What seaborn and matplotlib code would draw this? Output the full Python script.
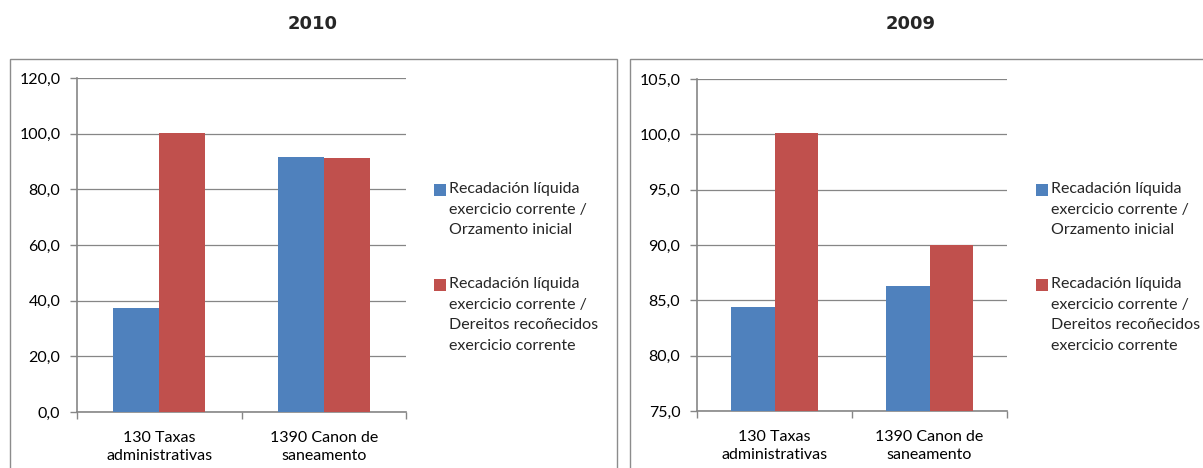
import matplotlib
matplotlib.use("Agg")
import matplotlib.pyplot as plt
from matplotlib.patches import Rectangle
from matplotlib.ticker import FuncFormatter, MultipleLocator
import seaborn as sns
import pandas as pd

# --- data -------------------------------------------------------------
categories = ["130 Taxas\nadministrativas", "1390 Canon de\nsaneamento"]
series_names = [
    "Recadación líquida\nexercicio corrente /\nOrzamento inicial",
    "Recadación líquida\nexercicio corrente /\nDereitos recoñecidos\nexercicio corrente",
]
values_2010_orzamento = [37.5, 91.6]
values_2010_dereitos = [100.2, 91.2]
values_2009_orzamento = [84.4, 86.3]
values_2009_dereitos = [100.1, 90.0]
years = ["2010", "2009"]

colors = ["#4F81BD", "#C0504D"]
grey = "#868686"

sns.set_theme(style="white")
plt.rcParams["font.family"] = ["Lato", "DejaVu Sans"]

W, H = 1203, 468
fig = plt.figure(figsize=(W / 100, H / 100), dpi=100)


def fx(px):
    return px / W


def fy(py):
    return 1 - py / H


def frame(data_a, data_b):
    return pd.DataFrame({
        "categoria": categories * 2,
        "serie": [series_names[0]] * 2 + [series_names[1]] * 2,
        "valor": list(data_a) + list(data_b),
    })


panels = [
    dict(year=years[0], a=values_2010_orzamento, b=values_2010_dereitos,
         ax=(77, 78, 406, 412), ylim=(0, 120), step=20,
         box=(10, 59, 617), title_x=313, legend_x=434),
    dict(year=years[1], a=values_2009_orzamento, b=values_2009_dereitos,
         ax=(697, 79, 1007, 411), ylim=(75, 105), step=5,
         box=(630, 59, 1210), title_x=911, legend_x=1036),
]

comma = FuncFormatter(lambda v, _: f"{v:.1f}".replace(".", ","))
FS = 11.5

for p in panels:
    # panel border
    bx0, by0, bx1 = p["box"]
    fig.patches.append(Rectangle((fx(bx0), fy(H + 10)), fx(bx1 - bx0), fy(by0) - fy(H + 10),
                                 transform=fig.transFigure, fill=False,
                                 edgecolor="#8C8C8C", linewidth=1.0, zorder=0))
    # title
    fig.text(fx(p["title_x"]), fy(24), p["year"],
             ha="center", va="center", fontsize=13, fontweight="bold",
             family="DejaVu Sans")

    x0, y0, x1, y1 = p["ax"]
    ax = fig.add_axes([fx(x0), fy(y1), fx(x1 - x0), fy(y0) - fy(y1)])
    df = frame(p["a"], p["b"])
    sns.barplot(data=df, x="categoria", y="valor", hue="serie",
                palette=colors, width=0.56, gap=0, saturation=1,
                edgecolor="none", linewidth=0, legend=False, ax=ax, zorder=3)
    ax.set_ylim(*p["ylim"])
    ax.set_xlim(-0.5, 1.5)
    ax.yaxis.set_major_locator(MultipleLocator(p["step"]))
    ax.yaxis.set_major_formatter(comma)
    ax.grid(axis="y", color=grey, linewidth=0.9, zorder=0)
    ax.set_axisbelow(True)
    ax.set_xlabel("")
    ax.set_ylabel("")
    for side in ("top", "right"):
        ax.spines[side].set_visible(False)
    for side in ("left", "bottom"):
        ax.spines[side].set_color(grey)
        ax.spines[side].set_linewidth(1.2)
    ax.tick_params(axis="y", left=True, length=5, color=grey, width=1,
                   labelsize=FS, pad=7, labelcolor="black")
    # category labels centred, boundary ticks below the axis
    ax.set_xticks([0, 1])
    ax.set_xticklabels(categories, fontsize=FS, linespacing=1.35)
    ax.tick_params(axis="x", bottom=False, pad=8, labelcolor="black")
    ax.set_xticks([-0.5, 0.5, 1.5], minor=True)
    ax.tick_params(axis="x", which="minor", bottom=True, length=5, color=grey, width=1)

    # legend: swatch aligned with the first line of each entry
    lx = p["legend_x"]
    for color, label, ty in zip(colors, series_names, (190, 285)):
        fig.patches.append(Rectangle((fx(lx), fy(ty + 6)), fx(12), fy(ty - 6) - fy(ty + 6),
                                     transform=fig.transFigure, facecolor=color,
                                     edgecolor="none"))
        fig.text(fx(lx + 15), fy(ty - 8), label, ha="left", va="top",
                 fontsize=FS, linespacing=1.6)

fig.savefig("out.png", dpi=100, facecolor="white")
